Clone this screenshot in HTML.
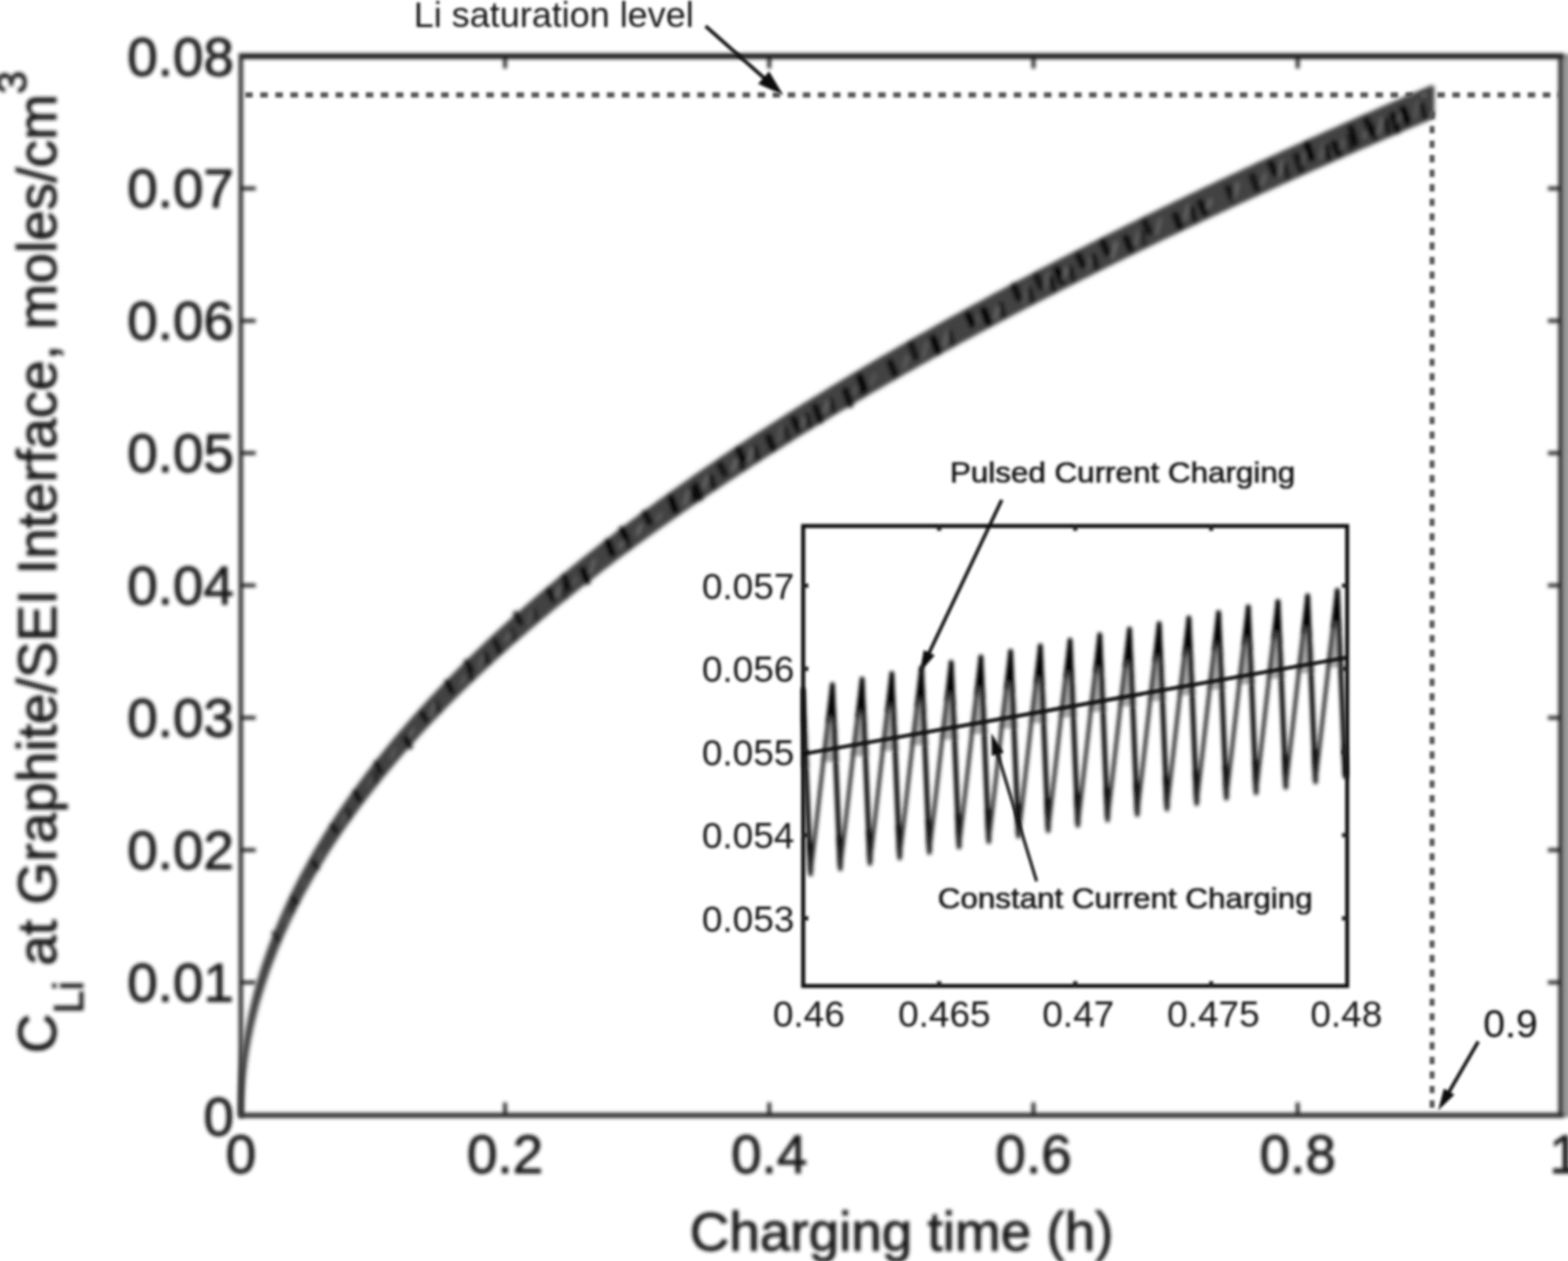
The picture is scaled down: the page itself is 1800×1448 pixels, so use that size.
<!DOCTYPE html>
<html lang="en"><head><meta charset="utf-8"><title>Li concentration at graphite/SEI interface vs charging time</title>
<style>html,body{margin:0;padding:0;background:#fff;overflow:hidden}svg{display:block}text{font-family:"Liberation Sans", sans-serif;fill:#161616}</style></head><body>
<svg width="1800" height="1448" viewBox="0 0 1800 1448">
<defs>
<filter id="f-band" x="-2%" y="-2%" width="104%" height="104%"><feGaussianBlur stdDeviation="2.5"/></filter>
<filter id="f-main" x="-2%" y="-2%" width="104%" height="104%"><feGaussianBlur stdDeviation="2.2"/></filter>
<filter id="f-zig" x="-2%" y="-2%" width="104%" height="104%"><feGaussianBlur stdDeviation="2.2"/></filter>
<filter id="f-inset" x="-2%" y="-2%" width="104%" height="104%"><feGaussianBlur stdDeviation="1.7"/></filter>
<filter id="f-small" x="-2%" y="-2%" width="104%" height="104%"><feGaussianBlur stdDeviation="1.8"/></filter>
<filter id="f-dots" x="-2%" y="-2%" width="104%" height="104%"><feGaussianBlur stdDeviation="1.8"/></filter>
<clipPath id="ic"><rect x="920.0" y="604.0" width="628.5" height="528.2"/></clipPath>
</defs>
<rect width="1800" height="1448" fill="#fff"/>
<g filter="url(#f-band)">
<path d="M276.5 1279.7 L276.5 1272.8 L276.6 1267.7 L276.7 1263.0 L276.8 1258.5 L277.0 1254.1 L277.2 1249.8 L277.4 1245.7 L277.7 1241.6 L278.0 1237.6 L278.3 1233.6 L278.6 1229.7 L279.0 1225.8 L279.4 1222.0 L279.8 1218.2 L280.2 1214.4 L280.7 1210.7 L281.1 1207.0 L281.6 1203.3 L282.2 1199.6 L282.7 1196.0 L283.3 1192.4 L283.9 1188.8 L284.5 1185.2 L285.1 1181.6 L285.8 1178.1 L286.5 1174.5 L287.2 1171.0 L287.9 1167.5 L288.6 1164.0 L289.4 1160.6 L290.2 1157.1 L291.0 1153.7 L291.8 1150.2 L292.7 1146.8 L293.5 1143.4 L294.4 1140.0 L295.3 1136.6 L296.3 1133.2 L297.2 1129.8 L298.2 1126.5 L299.2 1123.1 L300.2 1119.8 L301.2 1116.4 L302.2 1113.1 L303.3 1109.8 L304.4 1106.5 L305.5 1103.2 L306.6 1099.9 L307.7 1096.6 L308.9 1093.3 L310.1 1090.0 L311.2 1086.8 L312.5 1083.5 L313.7 1080.3 L314.9 1077.0 L316.2 1073.8 L317.5 1070.5 L318.8 1067.3 L320.1 1064.1 L321.5 1060.9 L322.8 1057.7 L324.2 1054.5 L325.6 1051.3 L327.0 1048.1 L328.4 1044.9 L329.9 1041.7 L331.3 1038.5 L332.8 1035.4 L334.3 1032.2 L335.8 1029.0 L337.4 1025.9 L338.9 1022.7 L340.5 1019.6 L342.1 1016.4 L343.7 1013.3 L345.3 1010.2 L346.9 1007.0 L348.6 1003.9 L350.3 1000.8 L352.0 997.7 L353.7 994.6 L355.4 991.5 L357.1 988.3 L358.9 985.2 L360.7 982.2 L362.4 979.1 L364.2 976.0 L366.1 972.9 L367.9 969.8 L369.8 966.7 L371.6 963.7 L373.5 960.6 L375.4 957.5 L377.4 954.5 L379.3 951.4 L381.3 948.3 L383.2 945.3 L385.2 942.2 L387.2 939.2 L389.2 936.2 L391.3 933.1 L393.3 930.1 L395.4 927.0 L397.5 924.0 L399.6 921.0 L401.7 918.0 L403.8 914.9 L406.0 911.9 L408.2 908.9 L410.3 905.9 L412.5 902.9 L414.8 899.9 L417.0 896.9 L419.2 893.9 L421.5 890.9 L423.8 887.9 L426.1 884.9 L428.4 881.9 L430.7 878.9 L433.0 875.9 L435.4 873.0 L437.8 870.0 L440.2 867.0 L442.6 864.0 L445.0 861.1 L447.4 858.1 L449.9 855.1 L452.3 852.2 L454.8 849.2 L457.3 846.2 L459.8 843.3 L462.3 840.3 L464.9 837.4 L467.4 834.4 L470.0 831.5 L472.6 828.5 L475.2 825.6 L477.8 822.6 L480.5 819.7 L483.1 816.8 L485.8 813.8 L488.4 810.9 L491.1 808.0 L493.8 805.1 L496.6 802.1 L499.3 799.2 L502.1 796.3 L504.8 793.4 L507.6 790.5 L510.4 787.5 L513.2 784.6 L516.1 781.7 L518.9 778.8 L521.8 775.9 L524.6 773.0 L527.5 770.1 L530.4 767.2 L533.4 764.3 L536.3 761.4 L539.2 758.5 L542.2 755.6 L545.2 752.7 L548.2 749.8 L551.2 746.9 L554.2 744.1 L557.2 741.2 L560.3 738.3 L563.4 735.4 L566.4 732.5 L569.5 729.7 L572.6 726.8 L575.8 723.9 L578.9 721.0 L582.1 718.2 L585.2 715.3 L588.4 712.4 L591.6 709.6 L594.8 706.7 L598.0 703.9 L601.3 701.0 L604.5 698.1 L607.8 695.3 L611.1 692.4 L614.4 689.6 L617.7 686.7 L621.0 683.9 L624.4 681.0 L627.7 678.2 L631.1 675.3 L634.5 672.5 L637.9 669.7 L641.3 666.8 L644.7 664.0 L648.2 661.1 L651.6 658.3 L655.1 655.5 L658.6 652.6 L662.1 649.8 L665.6 647.0 L669.1 644.1 L672.6 641.3 L676.2 638.5 L679.8 635.7 L683.4 632.9 L686.9 630.0 L690.6 627.2 L694.2 624.4 L697.8 621.6 L701.5 618.8 L705.1 616.0 L708.8 613.1 L712.5 610.3 L716.2 607.5 L720.0 604.7 L723.7 601.9 L727.4 599.1 L731.2 596.3 L735.0 593.5 L738.8 590.7 L742.6 587.9 L746.4 585.1 L750.2 582.3 L754.1 579.5 L757.9 576.7 L761.8 573.9 L765.7 571.1 L769.6 568.3 L773.5 565.5 L777.5 562.8 L781.4 560.0 L785.4 557.2 L789.3 554.4 L793.3 551.6 L797.3 548.8 L801.3 546.1 L805.4 543.3 L809.4 540.5 L813.5 537.7 L817.5 534.9 L821.6 532.2 L825.7 529.4 L829.8 526.6 L833.9 523.9 L838.1 521.1 L842.2 518.3 L846.4 515.6 L850.6 512.8 L854.7 510.0 L859.0 507.3 L863.2 504.5 L867.4 501.7 L871.6 499.0 L875.9 496.2 L880.2 493.5 L884.5 490.7 L888.8 487.9 L893.1 485.2 L897.4 482.4 L901.7 479.7 L906.1 476.9 L910.4 474.2 L914.8 471.4 L919.2 468.7 L923.6 465.9 L928.0 463.2 L932.5 460.4 L936.9 457.7 L941.4 455.0 L945.9 452.2 L950.3 449.5 L954.8 446.7 L959.3 444.0 L963.9 441.3 L968.4 438.5 L973.0 435.8 L977.5 433.1 L982.1 430.3 L986.7 427.6 L991.3 424.9 L995.9 422.1 L1000.6 419.4 L1005.2 416.7 L1009.9 413.9 L1014.5 411.2 L1019.2 408.5 L1023.9 405.8 L1028.6 403.0 L1033.3 400.3 L1038.1 397.6 L1042.8 394.9 L1047.6 392.2 L1052.4 389.4 L1057.2 386.7 L1062.0 384.0 L1066.8 381.3 L1071.6 378.6 L1076.4 375.9 L1081.3 373.2 L1086.2 370.4 L1091.1 367.7 L1095.9 365.0 L1100.9 362.3 L1105.8 359.6 L1110.7 356.9 L1115.7 354.2 L1120.6 351.5 L1125.6 348.8 L1130.6 346.1 L1135.6 343.4 L1140.6 340.7 L1145.6 338.0 L1150.6 335.3 L1155.7 332.6 L1160.7 329.9 L1165.8 327.2 L1170.9 324.5 L1176.0 321.8 L1181.1 319.1 L1186.3 316.4 L1191.4 313.7 L1196.5 311.0 L1201.7 308.3 L1206.9 305.6 L1212.1 302.9 L1217.3 300.3 L1222.5 297.6 L1227.7 294.9 L1233.0 292.2 L1238.2 289.5 L1243.5 286.8 L1248.8 284.1 L1254.1 281.5 L1259.4 278.8 L1264.7 276.1 L1270.0 273.4 L1275.4 270.7 L1280.7 268.1 L1286.1 265.4 L1291.5 262.7 L1296.9 260.0 L1302.3 257.4 L1307.7 254.7 L1313.1 252.0 L1318.6 249.3 L1324.0 246.7 L1329.5 244.0 L1335.0 241.3 L1340.5 238.7 L1346.0 236.0 L1351.5 233.3 L1357.1 230.7 L1362.6 228.0 L1368.2 225.3 L1373.8 222.7 L1379.3 220.0 L1384.9 217.3 L1390.5 214.7 L1396.2 212.0 L1401.8 209.3 L1407.5 206.7 L1413.1 204.0 L1418.8 201.4 L1424.5 198.7 L1430.2 196.1 L1435.9 193.4 L1441.6 190.7 L1447.3 188.1 L1453.1 185.4 L1458.9 182.8 L1464.6 180.1 L1470.4 177.5 L1476.2 174.8 L1482.0 172.2 L1487.8 169.5 L1493.7 166.9 L1499.5 164.2 L1505.4 161.6 L1511.3 158.9 L1517.2 156.3 L1523.1 153.6 L1529.0 151.0 L1534.9 148.4 L1540.8 145.7 L1546.8 143.1 L1552.7 140.4 L1558.7 137.8 L1564.7 135.1 L1570.7 132.5 L1576.7 129.9 L1582.7 127.2 L1588.8 124.6 L1594.8 122.0 L1600.9 119.3 L1606.9 116.7 L1613.0 114.1 L1619.1 111.4 L1625.2 108.8 L1631.3 106.2 L1637.5 103.5 L1643.6 100.9 L1643.6 133.6 L1637.5 136.2 L1631.3 138.8 L1625.2 141.4 L1619.1 144.0 L1613.0 146.6 L1606.9 149.2 L1600.9 151.9 L1594.8 154.5 L1588.8 157.1 L1582.7 159.7 L1576.7 162.3 L1570.7 164.9 L1564.7 167.5 L1558.7 170.1 L1552.7 172.7 L1546.8 175.3 L1540.8 177.9 L1534.9 180.6 L1529.0 183.2 L1523.1 185.8 L1517.2 188.4 L1511.3 191.0 L1505.4 193.6 L1499.5 196.2 L1493.7 198.9 L1487.8 201.5 L1482.0 204.1 L1476.2 206.7 L1470.4 209.3 L1464.6 212.0 L1458.9 214.6 L1453.1 217.2 L1447.3 219.8 L1441.6 222.5 L1435.9 225.1 L1430.2 227.7 L1424.5 230.3 L1418.8 233.0 L1413.1 235.6 L1407.5 238.2 L1401.8 240.8 L1396.2 243.5 L1390.5 246.1 L1384.9 248.7 L1379.3 251.4 L1373.8 254.0 L1368.2 256.6 L1362.6 259.3 L1357.1 261.9 L1351.5 264.5 L1346.0 267.2 L1340.5 269.8 L1335.0 272.4 L1329.5 275.1 L1324.0 277.7 L1318.6 280.4 L1313.1 283.0 L1307.7 285.6 L1302.3 288.3 L1296.9 290.9 L1291.5 293.6 L1286.1 296.2 L1280.7 298.8 L1275.4 301.5 L1270.0 304.1 L1264.7 306.8 L1259.4 309.4 L1254.1 312.1 L1248.8 314.7 L1243.5 317.4 L1238.2 320.0 L1233.0 322.7 L1227.7 325.3 L1222.5 328.0 L1217.3 330.6 L1212.1 333.3 L1206.9 336.0 L1201.7 338.6 L1196.5 341.3 L1191.4 343.9 L1186.3 346.6 L1181.1 349.2 L1176.0 351.9 L1170.9 354.6 L1165.8 357.2 L1160.7 359.9 L1155.7 362.6 L1150.6 365.2 L1145.6 367.9 L1140.6 370.5 L1135.6 373.2 L1130.6 375.9 L1125.6 378.5 L1120.6 381.2 L1115.7 383.9 L1110.7 386.6 L1105.8 389.2 L1100.9 391.9 L1095.9 394.6 L1091.1 397.3 L1086.2 399.9 L1081.3 402.6 L1076.4 405.3 L1071.6 408.0 L1066.8 410.6 L1062.0 413.3 L1057.2 416.0 L1052.4 418.7 L1047.6 421.4 L1042.8 424.0 L1038.1 426.7 L1033.3 429.4 L1028.6 432.1 L1023.9 434.8 L1019.2 437.5 L1014.5 440.2 L1009.9 442.9 L1005.2 445.5 L1000.6 448.2 L995.9 450.9 L991.3 453.6 L986.7 456.3 L982.1 459.0 L977.5 461.7 L973.0 464.4 L968.4 467.1 L963.9 469.8 L959.3 472.5 L954.8 475.2 L950.3 477.9 L945.9 480.6 L941.4 483.3 L936.9 486.0 L932.5 488.7 L928.0 491.4 L923.6 494.1 L919.2 496.8 L914.8 499.5 L910.4 502.3 L906.1 505.0 L901.7 507.7 L897.4 510.4 L893.1 513.1 L888.8 515.8 L884.5 518.5 L880.2 521.3 L875.9 524.0 L871.6 526.7 L867.4 529.4 L863.2 532.1 L859.0 534.9 L854.7 537.6 L850.6 540.3 L846.4 543.0 L842.2 545.8 L838.1 548.5 L833.9 551.2 L829.8 553.9 L825.7 556.7 L821.6 559.4 L817.5 562.1 L813.5 564.9 L809.4 567.6 L805.4 570.4 L801.3 573.1 L797.3 575.8 L793.3 578.6 L789.3 581.3 L785.4 584.1 L781.4 586.8 L777.5 589.5 L773.5 592.3 L769.6 595.0 L765.7 597.8 L761.8 600.5 L757.9 603.3 L754.1 606.0 L750.2 608.8 L746.4 611.5 L742.6 614.3 L738.8 617.1 L735.0 619.8 L731.2 622.6 L727.4 625.3 L723.7 628.1 L720.0 630.9 L716.2 633.6 L712.5 636.4 L708.8 639.1 L705.1 641.9 L701.5 644.7 L697.8 647.5 L694.2 650.2 L690.6 653.0 L686.9 655.8 L683.4 658.5 L679.8 661.3 L676.2 664.1 L672.6 666.9 L669.1 669.7 L665.6 672.4 L662.1 675.2 L658.6 678.0 L655.1 680.8 L651.6 683.6 L648.2 686.4 L644.7 689.2 L641.3 691.9 L637.9 694.7 L634.5 697.5 L631.1 700.3 L627.7 703.1 L624.4 705.9 L621.0 708.7 L617.7 711.5 L614.4 714.3 L611.1 717.1 L607.8 719.9 L604.5 722.7 L601.3 725.6 L598.0 728.4 L594.8 731.2 L591.6 734.0 L588.4 736.8 L585.2 739.6 L582.1 742.4 L578.9 745.3 L575.8 748.1 L572.6 750.9 L569.5 753.7 L566.4 756.5 L563.4 759.4 L560.3 762.2 L557.2 765.0 L554.2 767.9 L551.2 770.7 L548.2 773.5 L545.2 776.4 L542.2 779.2 L539.2 782.0 L536.3 784.9 L533.4 787.7 L530.4 790.6 L527.5 793.4 L524.6 796.3 L521.8 799.1 L518.9 802.0 L516.1 804.8 L513.2 807.7 L510.4 810.5 L507.6 813.4 L504.8 816.3 L502.1 819.1 L499.3 822.0 L496.6 824.9 L493.8 827.7 L491.1 830.6 L488.4 833.5 L485.8 836.3 L483.1 839.2 L480.5 842.1 L477.8 845.0 L475.2 847.9 L472.6 850.7 L470.0 853.6 L467.4 856.5 L464.9 859.4 L462.3 862.3 L459.8 865.2 L457.3 868.1 L454.8 871.0 L452.3 873.9 L449.9 876.8 L447.4 879.7 L445.0 882.6 L442.6 885.5 L440.2 888.4 L437.8 891.3 L435.4 894.2 L433.0 897.2 L430.7 900.1 L428.4 903.0 L426.1 905.9 L423.8 908.9 L421.5 911.8 L419.2 914.7 L417.0 917.7 L414.8 920.6 L412.5 923.5 L410.3 926.5 L408.2 929.4 L406.0 932.4 L403.8 935.3 L401.7 938.3 L399.6 941.2 L397.5 944.2 L395.4 947.1 L393.3 950.1 L391.3 953.1 L389.2 956.0 L387.2 959.0 L385.2 962.0 L383.2 964.9 L381.3 967.9 L379.3 970.9 L377.4 973.9 L375.4 976.9 L373.5 979.9 L371.6 982.9 L369.8 985.9 L367.9 988.9 L366.1 991.9 L364.2 994.9 L362.4 997.9 L360.7 1000.9 L358.9 1003.9 L357.1 1006.9 L355.4 1010.0 L353.7 1013.0 L352.0 1016.0 L350.3 1019.0 L348.6 1022.1 L346.9 1025.1 L345.3 1028.2 L343.7 1031.2 L342.1 1034.3 L340.5 1037.3 L338.9 1040.4 L337.4 1043.4 L335.8 1046.5 L334.3 1049.6 L332.8 1052.7 L331.3 1055.7 L329.9 1058.8 L328.4 1061.9 L327.0 1065.0 L325.6 1068.1 L324.2 1071.2 L322.8 1074.3 L321.5 1077.4 L320.1 1080.5 L318.8 1083.7 L317.5 1086.8 L316.2 1089.9 L314.9 1093.0 L313.7 1096.2 L312.5 1099.3 L311.2 1102.5 L310.1 1105.6 L308.9 1108.8 L307.7 1112.0 L306.6 1115.1 L305.5 1118.3 L304.4 1121.5 L303.3 1124.7 L302.2 1127.9 L301.2 1131.1 L300.2 1134.3 L299.2 1137.5 L298.2 1140.8 L297.2 1144.0 L296.3 1147.2 L295.3 1150.5 L294.4 1153.7 L293.5 1157.0 L292.7 1160.3 L291.8 1163.6 L291.0 1166.8 L290.2 1170.1 L289.4 1173.5 L288.6 1176.8 L287.9 1180.1 L287.2 1183.4 L286.5 1186.8 L285.8 1190.1 L285.1 1193.5 L284.5 1196.9 L283.9 1200.3 L283.3 1203.7 L282.7 1207.1 L282.2 1210.6 L281.6 1214.0 L281.1 1217.5 L280.7 1221.0 L280.2 1224.5 L279.8 1228.0 L279.4 1231.5 L279.0 1235.1 L278.6 1238.7 L278.3 1242.3 L278.0 1245.9 L277.7 1249.6 L277.4 1253.3 L277.2 1257.1 L277.0 1260.9 L276.8 1264.7 L276.7 1268.6 L276.6 1272.6 L276.5 1276.6 L276.5 1280.3Z" fill="#434343" stroke="#434343" stroke-width="6" stroke-linejoin="round"/>
<line x1="314.2" y1="1071.1" x2="319.2" y2="1078.9" stroke="#000" stroke-width="5.1" stroke-linecap="round" opacity="0.72"/>
<line x1="330.7" y1="1049.4" x2="326.7" y2="1059.5" stroke="#8c8c8c" stroke-width="2.1" stroke-linecap="round" opacity="0.43"/>
<line x1="334.0" y1="1038.1" x2="337.0" y2="1046.6" stroke="#000" stroke-width="4.1" stroke-linecap="round" opacity="0.43"/>
<line x1="335.6" y1="1030.6" x2="340.6" y2="1037.2" stroke="#000" stroke-width="5.3" stroke-linecap="round" opacity="0.77"/>
<line x1="351.5" y1="1010.7" x2="347.5" y2="1016.6" stroke="#8c8c8c" stroke-width="2.1" stroke-linecap="round" opacity="0.39"/>
<line x1="359.6" y1="989.8" x2="364.6" y2="996.8" stroke="#000" stroke-width="5.5" stroke-linecap="round" opacity="0.74"/>
<line x1="369.6" y1="978.6" x2="365.6" y2="986.8" stroke="#8c8c8c" stroke-width="2.2" stroke-linecap="round" opacity="0.45"/>
<line x1="381.1" y1="947.7" x2="386.1" y2="954.8" stroke="#000" stroke-width="5.7" stroke-linecap="round" opacity="0.76"/>
<line x1="396.0" y1="935.5" x2="392.0" y2="945.9" stroke="#8c8c8c" stroke-width="2.2" stroke-linecap="round" opacity="0.45"/>
<line x1="398.9" y1="929.3" x2="401.9" y2="938.8" stroke="#000" stroke-width="4.3" stroke-linecap="round" opacity="0.72"/>
<line x1="407.6" y1="909.2" x2="412.6" y2="918.6" stroke="#000" stroke-width="5.9" stroke-linecap="round" opacity="0.96"/>
<line x1="425.8" y1="893.8" x2="421.8" y2="902.7" stroke="#8c8c8c" stroke-width="2.3" stroke-linecap="round" opacity="0.29"/>
<line x1="430.0" y1="887.8" x2="433.0" y2="897.6" stroke="#000" stroke-width="4.4" stroke-linecap="round" opacity="0.46"/>
<line x1="431.9" y1="875.9" x2="436.9" y2="886.6" stroke="#000" stroke-width="6.1" stroke-linecap="round" opacity="0.87"/>
<line x1="452.8" y1="860.2" x2="448.8" y2="870.5" stroke="#8c8c8c" stroke-width="2.4" stroke-linecap="round" opacity="0.46"/>
<line x1="465.7" y1="847.5" x2="470.7" y2="857.2" stroke="#000" stroke-width="6.3" stroke-linecap="round" opacity="0.90"/>
<line x1="474.6" y1="837.6" x2="470.6" y2="845.7" stroke="#8c8c8c" stroke-width="2.5" stroke-linecap="round" opacity="0.60"/>
<line x1="484.4" y1="819.0" x2="489.4" y2="827.0" stroke="#000" stroke-width="6.5" stroke-linecap="round" opacity="0.84"/>
<line x1="498.4" y1="807.6" x2="494.4" y2="822.5" stroke="#8c8c8c" stroke-width="2.6" stroke-linecap="round" opacity="0.52"/>
<line x1="501.2" y1="806.3" x2="504.2" y2="816.8" stroke="#000" stroke-width="4.8" stroke-linecap="round" opacity="0.56"/>
<line x1="513.5" y1="783.4" x2="518.5" y2="794.0" stroke="#000" stroke-width="6.8" stroke-linecap="round" opacity="0.97"/>
<line x1="533.7" y1="776.5" x2="529.7" y2="785.7" stroke="#8c8c8c" stroke-width="2.7" stroke-linecap="round" opacity="0.40"/>
<line x1="538.4" y1="768.8" x2="541.4" y2="779.6" stroke="#000" stroke-width="4.9" stroke-linecap="round" opacity="0.78"/>
<line x1="535.7" y1="760.2" x2="540.7" y2="769.6" stroke="#000" stroke-width="6.9" stroke-linecap="round" opacity="0.85"/>
<line x1="553.9" y1="752.9" x2="549.9" y2="767.7" stroke="#8c8c8c" stroke-width="2.7" stroke-linecap="round" opacity="0.40"/>
<line x1="557.6" y1="750.5" x2="560.6" y2="761.4" stroke="#000" stroke-width="5.0" stroke-linecap="round" opacity="0.78"/>
<line x1="568.4" y1="736.1" x2="573.4" y2="747.8" stroke="#000" stroke-width="7.2" stroke-linecap="round" opacity="0.72"/>
<line x1="584.8" y1="728.0" x2="580.8" y2="735.2" stroke="#8c8c8c" stroke-width="2.8" stroke-linecap="round" opacity="0.53"/>
<line x1="588.0" y1="722.8" x2="591.0" y2="733.9" stroke="#000" stroke-width="5.1" stroke-linecap="round" opacity="0.44"/>
<line x1="592.4" y1="705.1" x2="597.4" y2="714.7" stroke="#000" stroke-width="7.4" stroke-linecap="round" opacity="0.75"/>
<line x1="610.5" y1="700.0" x2="606.5" y2="716.9" stroke="#8c8c8c" stroke-width="2.9" stroke-linecap="round" opacity="0.30"/>
<line x1="613.6" y1="700.4" x2="616.6" y2="711.7" stroke="#000" stroke-width="5.2" stroke-linecap="round" opacity="0.41"/>
<line x1="630.0" y1="678.2" x2="635.0" y2="688.2" stroke="#000" stroke-width="7.6" stroke-linecap="round" opacity="0.80"/>
<line x1="642.7" y1="673.2" x2="638.7" y2="685.7" stroke="#8c8c8c" stroke-width="3.0" stroke-linecap="round" opacity="0.60"/>
<line x1="646.2" y1="673.2" x2="649.2" y2="684.7" stroke="#000" stroke-width="5.3" stroke-linecap="round" opacity="0.43"/>
<line x1="647.9" y1="662.4" x2="652.9" y2="675.4" stroke="#000" stroke-width="7.8" stroke-linecap="round" opacity="0.75"/>
<line x1="661.5" y1="664.1" x2="657.5" y2="672.0" stroke="#8c8c8c" stroke-width="3.1" stroke-linecap="round" opacity="0.30"/>
<line x1="669.1" y1="654.0" x2="674.1" y2="667.4" stroke="#000" stroke-width="8.0" stroke-linecap="round" opacity="0.91"/>
<line x1="682.1" y1="643.3" x2="678.1" y2="657.6" stroke="#8c8c8c" stroke-width="3.1" stroke-linecap="round" opacity="0.52"/>
<line x1="697.8" y1="622.3" x2="702.8" y2="635.6" stroke="#000" stroke-width="8.2" stroke-linecap="round" opacity="1.00"/>
<line x1="715.8" y1="620.8" x2="711.8" y2="628.6" stroke="#8c8c8c" stroke-width="3.2" stroke-linecap="round" opacity="0.51"/>
<line x1="719.3" y1="616.1" x2="722.3" y2="628.0" stroke="#000" stroke-width="5.6" stroke-linecap="round" opacity="0.54"/>
<line x1="714.2" y1="608.2" x2="719.2" y2="618.7" stroke="#000" stroke-width="8.4" stroke-linecap="round" opacity="0.91"/>
<line x1="735.7" y1="603.2" x2="731.7" y2="613.2" stroke="#8c8c8c" stroke-width="3.3" stroke-linecap="round" opacity="0.60"/>
<line x1="740.6" y1="589.5" x2="745.6" y2="599.8" stroke="#000" stroke-width="8.6" stroke-linecap="round" opacity="0.76"/>
<line x1="758.5" y1="590.1" x2="754.5" y2="597.2" stroke="#8c8c8c" stroke-width="3.3" stroke-linecap="round" opacity="0.42"/>
<line x1="770.3" y1="571.9" x2="775.3" y2="586.1" stroke="#000" stroke-width="8.8" stroke-linecap="round" opacity="0.93"/>
<line x1="790.2" y1="564.4" x2="786.2" y2="578.5" stroke="#8c8c8c" stroke-width="3.4" stroke-linecap="round" opacity="0.53"/>
<line x1="794.6" y1="562.1" x2="797.6" y2="574.3" stroke="#000" stroke-width="5.9" stroke-linecap="round" opacity="0.79"/>
<line x1="798.4" y1="557.6" x2="803.4" y2="571.0" stroke="#000" stroke-width="9.0" stroke-linecap="round" opacity="0.75"/>
<line x1="812.0" y1="546.7" x2="808.0" y2="559.6" stroke="#8c8c8c" stroke-width="3.5" stroke-linecap="round" opacity="0.53"/>
<line x1="816.5" y1="547.1" x2="819.5" y2="559.5" stroke="#000" stroke-width="6.0" stroke-linecap="round" opacity="0.79"/>
<line x1="826.7" y1="533.7" x2="831.7" y2="544.0" stroke="#000" stroke-width="9.0" stroke-linecap="round" opacity="0.70"/>
<line x1="845.1" y1="528.5" x2="841.1" y2="539.6" stroke="#8c8c8c" stroke-width="3.5" stroke-linecap="round" opacity="0.58"/>
<line x1="849.7" y1="525.0" x2="852.7" y2="537.5" stroke="#000" stroke-width="6.0" stroke-linecap="round" opacity="0.73"/>
<line x1="847.9" y1="516.2" x2="852.9" y2="527.1" stroke="#000" stroke-width="9.0" stroke-linecap="round" opacity="0.88"/>
<line x1="863.7" y1="514.4" x2="859.7" y2="529.6" stroke="#8c8c8c" stroke-width="3.5" stroke-linecap="round" opacity="0.57"/>
<line x1="867.1" y1="513.7" x2="870.1" y2="526.2" stroke="#000" stroke-width="6.0" stroke-linecap="round" opacity="0.63"/>
<line x1="882.2" y1="502.0" x2="887.2" y2="514.5" stroke="#000" stroke-width="9.0" stroke-linecap="round" opacity="0.86"/>
<line x1="897.6" y1="489.3" x2="893.6" y2="506.3" stroke="#8c8c8c" stroke-width="3.5" stroke-linecap="round" opacity="0.31"/>
<line x1="902.0" y1="491.4" x2="905.0" y2="504.1" stroke="#000" stroke-width="6.0" stroke-linecap="round" opacity="0.47"/>
<line x1="911.3" y1="481.5" x2="916.3" y2="493.1" stroke="#000" stroke-width="9.0" stroke-linecap="round" opacity="0.86"/>
<line x1="923.8" y1="479.3" x2="919.8" y2="491.8" stroke="#8c8c8c" stroke-width="3.5" stroke-linecap="round" opacity="0.45"/>
<line x1="926.7" y1="476.1" x2="929.7" y2="488.8" stroke="#000" stroke-width="6.0" stroke-linecap="round" opacity="0.71"/>
<line x1="936.3" y1="467.3" x2="941.3" y2="482.3" stroke="#000" stroke-width="9.0" stroke-linecap="round" opacity="0.83"/>
<line x1="950.7" y1="460.4" x2="946.7" y2="473.1" stroke="#8c8c8c" stroke-width="3.5" stroke-linecap="round" opacity="0.49"/>
<line x1="954.3" y1="459.2" x2="957.3" y2="472.1" stroke="#000" stroke-width="6.0" stroke-linecap="round" opacity="0.59"/>
<line x1="970.8" y1="448.6" x2="975.8" y2="463.9" stroke="#000" stroke-width="9.0" stroke-linecap="round" opacity="0.78"/>
<line x1="983.6" y1="444.4" x2="979.6" y2="451.7" stroke="#8c8c8c" stroke-width="3.5" stroke-linecap="round" opacity="0.30"/>
<line x1="986.9" y1="439.7" x2="989.9" y2="452.7" stroke="#000" stroke-width="6.0" stroke-linecap="round" opacity="0.43"/>
<line x1="987.1" y1="432.8" x2="992.1" y2="447.3" stroke="#000" stroke-width="9.0" stroke-linecap="round" opacity="0.97"/>
<line x1="1004.2" y1="430.4" x2="1000.2" y2="440.6" stroke="#8c8c8c" stroke-width="3.5" stroke-linecap="round" opacity="0.30"/>
<line x1="1022.1" y1="416.5" x2="1027.1" y2="429.0" stroke="#000" stroke-width="9.0" stroke-linecap="round" opacity="0.85"/>
<line x1="1041.9" y1="409.6" x2="1037.9" y2="421.9" stroke="#8c8c8c" stroke-width="3.5" stroke-linecap="round" opacity="0.40"/>
<line x1="1046.0" y1="395.4" x2="1051.0" y2="409.9" stroke="#000" stroke-width="9.0" stroke-linecap="round" opacity="0.71"/>
<line x1="1063.8" y1="393.8" x2="1059.8" y2="410.4" stroke="#8c8c8c" stroke-width="3.5" stroke-linecap="round" opacity="0.37"/>
<line x1="1071.3" y1="388.2" x2="1076.3" y2="403.2" stroke="#000" stroke-width="9.0" stroke-linecap="round" opacity="0.99"/>
<line x1="1088.2" y1="378.7" x2="1084.2" y2="396.7" stroke="#8c8c8c" stroke-width="3.5" stroke-linecap="round" opacity="0.52"/>
<line x1="1090.6" y1="380.7" x2="1093.6" y2="394.0" stroke="#000" stroke-width="6.0" stroke-linecap="round" opacity="0.57"/>
<line x1="1111.5" y1="361.6" x2="1116.5" y2="372.9" stroke="#000" stroke-width="9.0" stroke-linecap="round" opacity="0.98"/>
<line x1="1123.2" y1="363.3" x2="1119.2" y2="377.4" stroke="#8c8c8c" stroke-width="3.5" stroke-linecap="round" opacity="0.27"/>
<line x1="1129.5" y1="356.0" x2="1134.5" y2="370.2" stroke="#000" stroke-width="9.0" stroke-linecap="round" opacity="0.94"/>
<line x1="1146.2" y1="352.4" x2="1142.2" y2="365.3" stroke="#8c8c8c" stroke-width="3.5" stroke-linecap="round" opacity="0.55"/>
<line x1="1149.2" y1="349.0" x2="1152.2" y2="362.5" stroke="#000" stroke-width="6.0" stroke-linecap="round" opacity="0.62"/>
<line x1="1164.3" y1="328.7" x2="1169.3" y2="342.4" stroke="#000" stroke-width="9.0" stroke-linecap="round" opacity="0.77"/>
<line x1="1179.2" y1="328.6" x2="1175.2" y2="348.0" stroke="#8c8c8c" stroke-width="3.5" stroke-linecap="round" opacity="0.32"/>
<line x1="1182.1" y1="331.6" x2="1185.1" y2="345.2" stroke="#000" stroke-width="6.0" stroke-linecap="round" opacity="0.70"/>
<line x1="1190.0" y1="317.1" x2="1195.0" y2="329.7" stroke="#000" stroke-width="9.0" stroke-linecap="round" opacity="0.71"/>
<line x1="1203.2" y1="314.8" x2="1199.2" y2="331.4" stroke="#8c8c8c" stroke-width="3.5" stroke-linecap="round" opacity="0.44"/>
<line x1="1206.7" y1="318.8" x2="1209.7" y2="332.5" stroke="#000" stroke-width="6.0" stroke-linecap="round" opacity="0.77"/>
<line x1="1213.8" y1="309.5" x2="1218.8" y2="323.1" stroke="#000" stroke-width="9.0" stroke-linecap="round" opacity="0.95"/>
<line x1="1224.5" y1="308.2" x2="1220.5" y2="320.8" stroke="#8c8c8c" stroke-width="3.5" stroke-linecap="round" opacity="0.59"/>
<line x1="1229.0" y1="307.4" x2="1232.0" y2="321.1" stroke="#000" stroke-width="6.0" stroke-linecap="round" opacity="0.68"/>
<line x1="1238.2" y1="293.8" x2="1243.2" y2="304.8" stroke="#000" stroke-width="9.0" stroke-linecap="round" opacity="0.74"/>
<line x1="1251.5" y1="296.7" x2="1247.5" y2="309.8" stroke="#8c8c8c" stroke-width="3.5" stroke-linecap="round" opacity="0.31"/>
<line x1="1256.0" y1="293.7" x2="1259.0" y2="307.6" stroke="#000" stroke-width="6.0" stroke-linecap="round" opacity="0.75"/>
<line x1="1266.0" y1="277.9" x2="1271.0" y2="290.4" stroke="#000" stroke-width="9.0" stroke-linecap="round" opacity="0.84"/>
<line x1="1281.0" y1="279.2" x2="1277.0" y2="295.0" stroke="#8c8c8c" stroke-width="3.5" stroke-linecap="round" opacity="0.59"/>
<line x1="1292.8" y1="273.3" x2="1297.8" y2="286.0" stroke="#000" stroke-width="9.0" stroke-linecap="round" opacity="0.81"/>
<line x1="1307.4" y1="265.5" x2="1303.4" y2="280.7" stroke="#8c8c8c" stroke-width="3.5" stroke-linecap="round" opacity="0.43"/>
<line x1="1310.9" y1="266.5" x2="1313.9" y2="280.5" stroke="#000" stroke-width="6.0" stroke-linecap="round" opacity="0.40"/>
<line x1="1314.2" y1="255.0" x2="1319.2" y2="266.1" stroke="#000" stroke-width="9.0" stroke-linecap="round" opacity="0.71"/>
<line x1="1331.9" y1="252.2" x2="1327.9" y2="268.2" stroke="#8c8c8c" stroke-width="3.5" stroke-linecap="round" opacity="0.44"/>
<line x1="1349.4" y1="247.0" x2="1354.4" y2="260.3" stroke="#000" stroke-width="9.0" stroke-linecap="round" opacity="0.80"/>
<line x1="1364.1" y1="235.9" x2="1360.1" y2="251.9" stroke="#8c8c8c" stroke-width="3.5" stroke-linecap="round" opacity="0.48"/>
<line x1="1368.6" y1="238.7" x2="1371.6" y2="252.8" stroke="#000" stroke-width="6.0" stroke-linecap="round" opacity="0.76"/>
<line x1="1378.0" y1="232.6" x2="1383.0" y2="244.4" stroke="#000" stroke-width="9.0" stroke-linecap="round" opacity="0.86"/>
<line x1="1390.1" y1="229.9" x2="1386.1" y2="239.0" stroke="#8c8c8c" stroke-width="3.5" stroke-linecap="round" opacity="0.54"/>
<line x1="1409.8" y1="215.8" x2="1414.8" y2="228.3" stroke="#000" stroke-width="9.0" stroke-linecap="round" opacity="0.71"/>
<line x1="1420.7" y1="211.1" x2="1416.7" y2="229.2" stroke="#8c8c8c" stroke-width="3.5" stroke-linecap="round" opacity="0.54"/>
<line x1="1437.7" y1="202.4" x2="1442.7" y2="216.6" stroke="#000" stroke-width="9.0" stroke-linecap="round" opacity="0.70"/>
<line x1="1452.4" y1="200.1" x2="1448.4" y2="212.1" stroke="#8c8c8c" stroke-width="3.5" stroke-linecap="round" opacity="0.44"/>
<line x1="1458.8" y1="187.8" x2="1463.8" y2="199.4" stroke="#000" stroke-width="9.0" stroke-linecap="round" opacity="0.78"/>
<line x1="1472.1" y1="186.0" x2="1468.1" y2="201.6" stroke="#8c8c8c" stroke-width="3.5" stroke-linecap="round" opacity="0.59"/>
<line x1="1475.2" y1="189.1" x2="1478.2" y2="203.5" stroke="#000" stroke-width="6.0" stroke-linecap="round" opacity="0.59"/>
<line x1="1488.3" y1="179.1" x2="1493.3" y2="194.4" stroke="#000" stroke-width="9.0" stroke-linecap="round" opacity="0.72"/>
<line x1="1498.4" y1="174.5" x2="1494.4" y2="189.7" stroke="#8c8c8c" stroke-width="3.5" stroke-linecap="round" opacity="0.36"/>
<line x1="1500.5" y1="166.0" x2="1505.5" y2="181.5" stroke="#000" stroke-width="9.0" stroke-linecap="round" opacity="0.91"/>
<line x1="1520.2" y1="165.0" x2="1516.2" y2="181.4" stroke="#8c8c8c" stroke-width="3.5" stroke-linecap="round" opacity="0.41"/>
<line x1="1522.6" y1="167.8" x2="1525.6" y2="182.3" stroke="#000" stroke-width="6.0" stroke-linecap="round" opacity="0.76"/>
<line x1="1531.6" y1="164.7" x2="1536.6" y2="176.1" stroke="#000" stroke-width="9.0" stroke-linecap="round" opacity="0.84"/>
<line x1="1542.9" y1="161.4" x2="1538.9" y2="171.8" stroke="#8c8c8c" stroke-width="3.5" stroke-linecap="round" opacity="0.34"/>
<line x1="1547.8" y1="156.7" x2="1550.8" y2="171.2" stroke="#000" stroke-width="6.0" stroke-linecap="round" opacity="0.48"/>
<line x1="1551.0" y1="147.1" x2="1556.0" y2="164.6" stroke="#000" stroke-width="9.0" stroke-linecap="round" opacity="0.74"/>
<line x1="1570.7" y1="144.8" x2="1566.7" y2="156.8" stroke="#8c8c8c" stroke-width="3.5" stroke-linecap="round" opacity="0.50"/>
<line x1="1575.4" y1="144.6" x2="1578.4" y2="159.2" stroke="#000" stroke-width="6.0" stroke-linecap="round" opacity="0.59"/>
<line x1="1569.0" y1="138.2" x2="1574.0" y2="152.5" stroke="#000" stroke-width="9.0" stroke-linecap="round" opacity="0.79"/>
<line x1="1586.6" y1="136.2" x2="1582.6" y2="153.6" stroke="#8c8c8c" stroke-width="3.5" stroke-linecap="round" opacity="0.54"/>
<line x1="1590.9" y1="137.8" x2="1593.9" y2="152.5" stroke="#000" stroke-width="6.0" stroke-linecap="round" opacity="0.74"/>
<line x1="1599.0" y1="132.0" x2="1604.0" y2="149.3" stroke="#000" stroke-width="9.0" stroke-linecap="round" opacity="0.79"/>
<line x1="1608.6" y1="127.2" x2="1604.6" y2="139.6" stroke="#8c8c8c" stroke-width="3.5" stroke-linecap="round" opacity="0.46"/>
<line x1="1611.9" y1="128.7" x2="1614.9" y2="143.4" stroke="#000" stroke-width="6.0" stroke-linecap="round" opacity="0.51"/>
<line x1="1610.5" y1="125.1" x2="1615.5" y2="138.4" stroke="#000" stroke-width="9.0" stroke-linecap="round" opacity="0.98"/>
<line x1="1627.7" y1="117.7" x2="1623.7" y2="134.6" stroke="#8c8c8c" stroke-width="3.5" stroke-linecap="round" opacity="0.32"/>
<line x1="1632.6" y1="119.9" x2="1635.6" y2="134.6" stroke="#000" stroke-width="6.0" stroke-linecap="round" opacity="0.75"/>
</g>
<g filter="url(#f-main)">
<rect x="1794" y="62" width="10" height="1221" fill="#9a9a9a"/>
<line x1="274.0" y1="64.5" x2="1796.0" y2="64.5" stroke="#1c1c1c" stroke-width="6.5"/>
<line x1="276.5" y1="64.5" x2="276.5" y2="1283.0" stroke="#303030" stroke-width="5"/>
<line x1="274.0" y1="1280.8" x2="1796.0" y2="1280.8" stroke="#303030" stroke-width="6"/>
<line x1="1791.5" y1="64.5" x2="1791.5" y2="1283.0" stroke="#303030" stroke-width="5.5"/>
<line x1="579.8" y1="1280.0" x2="579.8" y2="1266.0" stroke="#222" stroke-width="4.2"/>
<line x1="579.8" y1="64.5" x2="579.8" y2="78.5" stroke="#222" stroke-width="4.2"/>
<line x1="883.1" y1="1280.0" x2="883.1" y2="1266.0" stroke="#222" stroke-width="4.2"/>
<line x1="883.1" y1="64.5" x2="883.1" y2="78.5" stroke="#222" stroke-width="4.2"/>
<line x1="1186.4" y1="1280.0" x2="1186.4" y2="1266.0" stroke="#222" stroke-width="4.2"/>
<line x1="1186.4" y1="64.5" x2="1186.4" y2="78.5" stroke="#222" stroke-width="4.2"/>
<line x1="1489.7" y1="1280.0" x2="1489.7" y2="1266.0" stroke="#222" stroke-width="4.2"/>
<line x1="1489.7" y1="64.5" x2="1489.7" y2="78.5" stroke="#222" stroke-width="4.2"/>
<line x1="276.5" y1="1128.1" x2="293.5" y2="1128.1" stroke="#222" stroke-width="4.2"/>
<line x1="1793.0" y1="1128.1" x2="1777.0" y2="1128.1" stroke="#222" stroke-width="4.2"/>
<line x1="276.5" y1="976.1" x2="293.5" y2="976.1" stroke="#222" stroke-width="4.2"/>
<line x1="1793.0" y1="976.1" x2="1777.0" y2="976.1" stroke="#222" stroke-width="4.2"/>
<line x1="276.5" y1="824.2" x2="293.5" y2="824.2" stroke="#222" stroke-width="4.2"/>
<line x1="1793.0" y1="824.2" x2="1777.0" y2="824.2" stroke="#222" stroke-width="4.2"/>
<line x1="276.5" y1="672.2" x2="293.5" y2="672.2" stroke="#222" stroke-width="4.2"/>
<line x1="1793.0" y1="672.2" x2="1777.0" y2="672.2" stroke="#222" stroke-width="4.2"/>
<line x1="276.5" y1="520.3" x2="293.5" y2="520.3" stroke="#222" stroke-width="4.2"/>
<line x1="1793.0" y1="520.3" x2="1777.0" y2="520.3" stroke="#222" stroke-width="4.2"/>
<line x1="276.5" y1="368.4" x2="293.5" y2="368.4" stroke="#222" stroke-width="4.2"/>
<line x1="1793.0" y1="368.4" x2="1777.0" y2="368.4" stroke="#222" stroke-width="4.2"/>
<line x1="276.5" y1="216.4" x2="293.5" y2="216.4" stroke="#222" stroke-width="4.2"/>
<line x1="1793.0" y1="216.4" x2="1777.0" y2="216.4" stroke="#222" stroke-width="4.2"/>
<text x="276.5" y="1346.5" font-size="63" stroke="#161616" stroke-width="0.9" text-anchor="middle">0</text>
<text x="579.8" y="1346.5" font-size="63" stroke="#161616" stroke-width="0.9" text-anchor="middle">0.2</text>
<text x="883.1" y="1346.5" font-size="63" stroke="#161616" stroke-width="0.9" text-anchor="middle">0.4</text>
<text x="1186.4" y="1346.5" font-size="63" stroke="#161616" stroke-width="0.9" text-anchor="middle">0.6</text>
<text x="1489.7" y="1346.5" font-size="63" stroke="#161616" stroke-width="0.9" text-anchor="middle">0.8</text>
<text x="1796.0" y="1346.5" font-size="63" stroke="#161616" stroke-width="0.9" text-anchor="middle">1</text>
<text x="268.5" y="1303.5" font-size="63" stroke="#161616" stroke-width="0.9" text-anchor="end">0</text>
<text x="268.5" y="1150.1" font-size="63" stroke="#161616" stroke-width="0.9" text-anchor="end">0.01</text>
<text x="268.5" y="998.1" font-size="63" stroke="#161616" stroke-width="0.9" text-anchor="end">0.02</text>
<text x="268.5" y="846.2" font-size="63" stroke="#161616" stroke-width="0.9" text-anchor="end">0.03</text>
<text x="268.5" y="694.2" font-size="63" stroke="#161616" stroke-width="0.9" text-anchor="end">0.04</text>
<text x="268.5" y="542.3" font-size="63" stroke="#161616" stroke-width="0.9" text-anchor="end">0.05</text>
<text x="268.5" y="390.4" font-size="63" stroke="#161616" stroke-width="0.9" text-anchor="end">0.06</text>
<text x="268.5" y="238.4" font-size="63" stroke="#161616" stroke-width="0.9" text-anchor="end">0.07</text>
<text x="268.5" y="86.5" font-size="63" stroke="#161616" stroke-width="0.9" text-anchor="end">0.08</text>
<text x="1035" y="1436" font-size="63" stroke="#161616" stroke-width="0.9" text-anchor="middle">Charging time (h)</text>
<text transform="translate(64.3 1209.5) rotate(-90)" font-size="63.2" stroke="#161616" stroke-width="0.9">C<tspan font-size="48" dy="31">Li</tspan><tspan dy="-31"> at Graphite/SEI Interface, moles/cm</tspan><tspan font-size="48" dy="-34">3</tspan></text>
</g>
<g filter="url(#f-zig)">
<path d="M917.3 817.4 L924.6 817.4 L929.8 881.4 L907.6 881.4 Z" fill="#757575" opacity="0.62" clip-path="url(#ic)"/>
<line x1="896.4" y1="1009.9" x2="921.1" y2="792.4" stroke="#2c2c2c" stroke-width="4.3" stroke-linecap="round" clip-path="url(#ic)"/>
<line x1="921.5" y1="792.4" x2="930.5" y2="1003.7" stroke="#000" stroke-width="5.3" stroke-linecap="round" clip-path="url(#ic)"/>
<path d="M916.2 835.4 L921.4 794.4 L923.0 827.4" fill="none" stroke="#000" stroke-width="4.6" stroke-linecap="round" stroke-linejoin="round" clip-path="url(#ic)"/>
<line x1="929.0" y1="967.7" x2="930.5" y2="999.7" stroke="#000" stroke-width="6" stroke-linecap="round" clip-path="url(#ic)"/>
<path d="M951.4 811.0 L958.7 811.0 L963.9 875.0 L941.7 875.0 Z" fill="#757575" opacity="0.62" clip-path="url(#ic)"/>
<line x1="930.5" y1="1003.7" x2="955.2" y2="786.0" stroke="#2c2c2c" stroke-width="4.3" stroke-linecap="round" clip-path="url(#ic)"/>
<line x1="955.6" y1="786.0" x2="964.6" y2="997.5" stroke="#000" stroke-width="5.3" stroke-linecap="round" clip-path="url(#ic)"/>
<path d="M950.3 829.0 L955.5 788.0 L957.1 821.0" fill="none" stroke="#000" stroke-width="4.6" stroke-linecap="round" stroke-linejoin="round" clip-path="url(#ic)"/>
<line x1="963.1" y1="961.5" x2="964.6" y2="993.5" stroke="#000" stroke-width="6" stroke-linecap="round" clip-path="url(#ic)"/>
<path d="M985.5 804.6 L992.8 804.6 L998.0 868.6 L975.8 868.6 Z" fill="#757575" opacity="0.62" clip-path="url(#ic)"/>
<line x1="964.6" y1="997.5" x2="989.3" y2="779.6" stroke="#2c2c2c" stroke-width="4.3" stroke-linecap="round" clip-path="url(#ic)"/>
<line x1="989.7" y1="779.6" x2="998.7" y2="991.3" stroke="#000" stroke-width="5.3" stroke-linecap="round" clip-path="url(#ic)"/>
<path d="M984.4 822.6 L989.6 781.6 L991.2 814.6" fill="none" stroke="#000" stroke-width="4.6" stroke-linecap="round" stroke-linejoin="round" clip-path="url(#ic)"/>
<line x1="997.2" y1="955.3" x2="998.7" y2="987.3" stroke="#000" stroke-width="6" stroke-linecap="round" clip-path="url(#ic)"/>
<path d="M1019.6 798.2 L1026.9 798.2 L1032.1 862.2 L1009.9 862.2 Z" fill="#757575" opacity="0.62" clip-path="url(#ic)"/>
<line x1="998.7" y1="991.3" x2="1023.4" y2="773.2" stroke="#2c2c2c" stroke-width="4.3" stroke-linecap="round" clip-path="url(#ic)"/>
<line x1="1023.8" y1="773.2" x2="1032.8" y2="985.1" stroke="#000" stroke-width="5.3" stroke-linecap="round" clip-path="url(#ic)"/>
<path d="M1018.5 816.2 L1023.7 775.2 L1025.3 808.2" fill="none" stroke="#000" stroke-width="4.6" stroke-linecap="round" stroke-linejoin="round" clip-path="url(#ic)"/>
<line x1="1031.3" y1="949.1" x2="1032.8" y2="981.1" stroke="#000" stroke-width="6" stroke-linecap="round" clip-path="url(#ic)"/>
<path d="M1053.7 791.9 L1061.0 791.9 L1066.2 855.9 L1044.0 855.9 Z" fill="#757575" opacity="0.62" clip-path="url(#ic)"/>
<line x1="1032.8" y1="985.1" x2="1057.5" y2="766.9" stroke="#2c2c2c" stroke-width="4.3" stroke-linecap="round" clip-path="url(#ic)"/>
<line x1="1057.9" y1="766.9" x2="1066.9" y2="978.8" stroke="#000" stroke-width="5.3" stroke-linecap="round" clip-path="url(#ic)"/>
<path d="M1052.6 809.9 L1057.8 768.9 L1059.4 801.9" fill="none" stroke="#000" stroke-width="4.6" stroke-linecap="round" stroke-linejoin="round" clip-path="url(#ic)"/>
<line x1="1065.4" y1="942.8" x2="1066.9" y2="974.8" stroke="#000" stroke-width="6" stroke-linecap="round" clip-path="url(#ic)"/>
<path d="M1087.8 785.5 L1095.1 785.5 L1100.3 849.5 L1078.1 849.5 Z" fill="#757575" opacity="0.62" clip-path="url(#ic)"/>
<line x1="1066.9" y1="978.8" x2="1091.6" y2="760.5" stroke="#2c2c2c" stroke-width="4.3" stroke-linecap="round" clip-path="url(#ic)"/>
<line x1="1092.0" y1="760.5" x2="1101.0" y2="972.6" stroke="#000" stroke-width="5.3" stroke-linecap="round" clip-path="url(#ic)"/>
<path d="M1086.8 803.5 L1091.9 762.5 L1093.5 795.5" fill="none" stroke="#000" stroke-width="4.6" stroke-linecap="round" stroke-linejoin="round" clip-path="url(#ic)"/>
<line x1="1099.5" y1="936.6" x2="1101.0" y2="968.6" stroke="#000" stroke-width="6" stroke-linecap="round" clip-path="url(#ic)"/>
<path d="M1121.9 779.1 L1129.2 779.1 L1134.4 843.1 L1112.2 843.1 Z" fill="#757575" opacity="0.62" clip-path="url(#ic)"/>
<line x1="1101.0" y1="972.6" x2="1125.7" y2="754.1" stroke="#2c2c2c" stroke-width="4.3" stroke-linecap="round" clip-path="url(#ic)"/>
<line x1="1126.1" y1="754.1" x2="1135.1" y2="966.4" stroke="#000" stroke-width="5.3" stroke-linecap="round" clip-path="url(#ic)"/>
<path d="M1120.9 797.1 L1126.0 756.1 L1127.6 789.1" fill="none" stroke="#000" stroke-width="4.6" stroke-linecap="round" stroke-linejoin="round" clip-path="url(#ic)"/>
<line x1="1133.6" y1="930.4" x2="1135.1" y2="962.4" stroke="#000" stroke-width="6" stroke-linecap="round" clip-path="url(#ic)"/>
<path d="M1156.0 772.7 L1163.3 772.7 L1168.5 836.7 L1146.3 836.7 Z" fill="#757575" opacity="0.62" clip-path="url(#ic)"/>
<line x1="1135.1" y1="966.4" x2="1159.8" y2="747.7" stroke="#2c2c2c" stroke-width="4.3" stroke-linecap="round" clip-path="url(#ic)"/>
<line x1="1160.2" y1="747.7" x2="1169.2" y2="960.2" stroke="#000" stroke-width="5.3" stroke-linecap="round" clip-path="url(#ic)"/>
<path d="M1155.0 790.7 L1160.1 749.7 L1161.7 782.7" fill="none" stroke="#000" stroke-width="4.6" stroke-linecap="round" stroke-linejoin="round" clip-path="url(#ic)"/>
<line x1="1167.7" y1="924.2" x2="1169.2" y2="956.2" stroke="#000" stroke-width="6" stroke-linecap="round" clip-path="url(#ic)"/>
<path d="M1190.1 766.4 L1197.4 766.4 L1202.5 830.4 L1180.4 830.4 Z" fill="#757575" opacity="0.62" clip-path="url(#ic)"/>
<line x1="1169.2" y1="960.2" x2="1193.9" y2="741.4" stroke="#2c2c2c" stroke-width="4.3" stroke-linecap="round" clip-path="url(#ic)"/>
<line x1="1194.3" y1="741.4" x2="1203.3" y2="953.9" stroke="#000" stroke-width="5.3" stroke-linecap="round" clip-path="url(#ic)"/>
<path d="M1189.1 784.4 L1194.2 743.4 L1195.8 776.4" fill="none" stroke="#000" stroke-width="4.6" stroke-linecap="round" stroke-linejoin="round" clip-path="url(#ic)"/>
<line x1="1201.8" y1="917.9" x2="1203.3" y2="949.9" stroke="#000" stroke-width="6" stroke-linecap="round" clip-path="url(#ic)"/>
<path d="M1224.2 760.0 L1231.5 760.0 L1236.6 824.0 L1214.5 824.0 Z" fill="#757575" opacity="0.62" clip-path="url(#ic)"/>
<line x1="1203.3" y1="953.9" x2="1228.0" y2="735.0" stroke="#2c2c2c" stroke-width="4.3" stroke-linecap="round" clip-path="url(#ic)"/>
<line x1="1228.4" y1="735.0" x2="1237.4" y2="947.7" stroke="#000" stroke-width="5.3" stroke-linecap="round" clip-path="url(#ic)"/>
<path d="M1223.2 778.0 L1228.3 737.0 L1229.9 770.0" fill="none" stroke="#000" stroke-width="4.6" stroke-linecap="round" stroke-linejoin="round" clip-path="url(#ic)"/>
<line x1="1235.9" y1="911.7" x2="1237.4" y2="943.7" stroke="#000" stroke-width="6" stroke-linecap="round" clip-path="url(#ic)"/>
<path d="M1258.3 753.6 L1265.6 753.6 L1270.7 817.6 L1248.6 817.6 Z" fill="#757575" opacity="0.62" clip-path="url(#ic)"/>
<line x1="1237.4" y1="947.7" x2="1262.1" y2="728.6" stroke="#2c2c2c" stroke-width="4.3" stroke-linecap="round" clip-path="url(#ic)"/>
<line x1="1262.5" y1="728.6" x2="1271.5" y2="941.5" stroke="#000" stroke-width="5.3" stroke-linecap="round" clip-path="url(#ic)"/>
<path d="M1257.3 771.6 L1262.4 730.6 L1264.0 763.6" fill="none" stroke="#000" stroke-width="4.6" stroke-linecap="round" stroke-linejoin="round" clip-path="url(#ic)"/>
<line x1="1270.0" y1="905.5" x2="1271.5" y2="937.5" stroke="#000" stroke-width="6" stroke-linecap="round" clip-path="url(#ic)"/>
<path d="M1292.4 747.2 L1299.7 747.2 L1304.8 811.2 L1282.7 811.2 Z" fill="#757575" opacity="0.62" clip-path="url(#ic)"/>
<line x1="1271.5" y1="941.5" x2="1296.2" y2="722.2" stroke="#2c2c2c" stroke-width="4.3" stroke-linecap="round" clip-path="url(#ic)"/>
<line x1="1296.6" y1="722.2" x2="1305.6" y2="935.3" stroke="#000" stroke-width="5.3" stroke-linecap="round" clip-path="url(#ic)"/>
<path d="M1291.4 765.2 L1296.5 724.2 L1298.1 757.2" fill="none" stroke="#000" stroke-width="4.6" stroke-linecap="round" stroke-linejoin="round" clip-path="url(#ic)"/>
<line x1="1304.1" y1="899.3" x2="1305.6" y2="931.3" stroke="#000" stroke-width="6" stroke-linecap="round" clip-path="url(#ic)"/>
<path d="M1326.5 740.9 L1333.8 740.9 L1338.9 804.9 L1316.9 804.9 Z" fill="#757575" opacity="0.62" clip-path="url(#ic)"/>
<line x1="1305.6" y1="935.3" x2="1330.3" y2="715.9" stroke="#2c2c2c" stroke-width="4.3" stroke-linecap="round" clip-path="url(#ic)"/>
<line x1="1330.7" y1="715.9" x2="1339.7" y2="929.0" stroke="#000" stroke-width="5.3" stroke-linecap="round" clip-path="url(#ic)"/>
<path d="M1325.5 758.9 L1330.6 717.9 L1332.2 750.9" fill="none" stroke="#000" stroke-width="4.6" stroke-linecap="round" stroke-linejoin="round" clip-path="url(#ic)"/>
<line x1="1338.2" y1="893.0" x2="1339.7" y2="925.0" stroke="#000" stroke-width="6" stroke-linecap="round" clip-path="url(#ic)"/>
<path d="M1360.6 734.5 L1367.9 734.5 L1373.0 798.5 L1351.0 798.5 Z" fill="#757575" opacity="0.62" clip-path="url(#ic)"/>
<line x1="1339.7" y1="929.0" x2="1364.4" y2="709.5" stroke="#2c2c2c" stroke-width="4.3" stroke-linecap="round" clip-path="url(#ic)"/>
<line x1="1364.8" y1="709.5" x2="1373.8" y2="922.8" stroke="#000" stroke-width="5.3" stroke-linecap="round" clip-path="url(#ic)"/>
<path d="M1359.6 752.5 L1364.7 711.5 L1366.3 744.5" fill="none" stroke="#000" stroke-width="4.6" stroke-linecap="round" stroke-linejoin="round" clip-path="url(#ic)"/>
<line x1="1372.3" y1="886.8" x2="1373.8" y2="918.8" stroke="#000" stroke-width="6" stroke-linecap="round" clip-path="url(#ic)"/>
<path d="M1394.7 728.1 L1402.0 728.1 L1407.1 792.1 L1385.1 792.1 Z" fill="#757575" opacity="0.62" clip-path="url(#ic)"/>
<line x1="1373.8" y1="922.8" x2="1398.5" y2="703.1" stroke="#2c2c2c" stroke-width="4.3" stroke-linecap="round" clip-path="url(#ic)"/>
<line x1="1398.9" y1="703.1" x2="1407.9" y2="916.6" stroke="#000" stroke-width="5.3" stroke-linecap="round" clip-path="url(#ic)"/>
<path d="M1393.7 746.1 L1398.8 705.1 L1400.4 738.1" fill="none" stroke="#000" stroke-width="4.6" stroke-linecap="round" stroke-linejoin="round" clip-path="url(#ic)"/>
<line x1="1406.4" y1="880.6" x2="1407.9" y2="912.6" stroke="#000" stroke-width="6" stroke-linecap="round" clip-path="url(#ic)"/>
<path d="M1428.8 721.7 L1436.1 721.7 L1441.2 785.7 L1419.2 785.7 Z" fill="#757575" opacity="0.62" clip-path="url(#ic)"/>
<line x1="1407.9" y1="916.6" x2="1432.6" y2="696.7" stroke="#2c2c2c" stroke-width="4.3" stroke-linecap="round" clip-path="url(#ic)"/>
<line x1="1433.0" y1="696.7" x2="1442.0" y2="910.4" stroke="#000" stroke-width="5.3" stroke-linecap="round" clip-path="url(#ic)"/>
<path d="M1427.8 739.7 L1432.9 698.7 L1434.5 731.7" fill="none" stroke="#000" stroke-width="4.6" stroke-linecap="round" stroke-linejoin="round" clip-path="url(#ic)"/>
<line x1="1440.5" y1="874.4" x2="1442.0" y2="906.4" stroke="#000" stroke-width="6" stroke-linecap="round" clip-path="url(#ic)"/>
<path d="M1462.9 715.3 L1470.2 715.3 L1475.3 779.3 L1453.3 779.3 Z" fill="#757575" opacity="0.62" clip-path="url(#ic)"/>
<line x1="1442.0" y1="910.4" x2="1466.7" y2="690.3" stroke="#2c2c2c" stroke-width="4.3" stroke-linecap="round" clip-path="url(#ic)"/>
<line x1="1467.1" y1="690.3" x2="1476.1" y2="904.2" stroke="#000" stroke-width="5.3" stroke-linecap="round" clip-path="url(#ic)"/>
<path d="M1461.9 733.3 L1467.0 692.3 L1468.6 725.3" fill="none" stroke="#000" stroke-width="4.6" stroke-linecap="round" stroke-linejoin="round" clip-path="url(#ic)"/>
<line x1="1474.6" y1="868.2" x2="1476.1" y2="900.2" stroke="#000" stroke-width="6" stroke-linecap="round" clip-path="url(#ic)"/>
<path d="M1497.0 709.0 L1504.3 709.0 L1509.4 773.0 L1487.4 773.0 Z" fill="#757575" opacity="0.62" clip-path="url(#ic)"/>
<line x1="1476.1" y1="904.2" x2="1500.8" y2="684.0" stroke="#2c2c2c" stroke-width="4.3" stroke-linecap="round" clip-path="url(#ic)"/>
<line x1="1501.2" y1="684.0" x2="1510.2" y2="897.9" stroke="#000" stroke-width="5.3" stroke-linecap="round" clip-path="url(#ic)"/>
<path d="M1496.0 727.0 L1501.1 686.0 L1502.7 719.0" fill="none" stroke="#000" stroke-width="4.6" stroke-linecap="round" stroke-linejoin="round" clip-path="url(#ic)"/>
<line x1="1508.7" y1="861.9" x2="1510.2" y2="893.9" stroke="#000" stroke-width="6" stroke-linecap="round" clip-path="url(#ic)"/>
<path d="M1531.1 702.6 L1538.4 702.6 L1543.5 766.6 L1521.5 766.6 Z" fill="#757575" opacity="0.62" clip-path="url(#ic)"/>
<line x1="1510.2" y1="897.9" x2="1534.9" y2="677.6" stroke="#2c2c2c" stroke-width="4.3" stroke-linecap="round" clip-path="url(#ic)"/>
<line x1="1535.3" y1="677.6" x2="1544.3" y2="891.7" stroke="#000" stroke-width="5.3" stroke-linecap="round" clip-path="url(#ic)"/>
<path d="M1530.1 720.6 L1535.2 679.6 L1536.8 712.6" fill="none" stroke="#000" stroke-width="4.6" stroke-linecap="round" stroke-linejoin="round" clip-path="url(#ic)"/>
<line x1="1542.8" y1="855.7" x2="1544.3" y2="887.7" stroke="#000" stroke-width="6" stroke-linecap="round" clip-path="url(#ic)"/>
</g>
<g filter="url(#f-inset)">
<rect x="922.0" y="604.0" width="624.5" height="528.2" fill="none" stroke="#101010" stroke-width="4.6"/>
<line x1="1078.1" y1="1132.2" x2="1078.1" y2="1126.7" stroke="#222" stroke-width="5"/>
<line x1="1078.1" y1="604.0" x2="1078.1" y2="609.5" stroke="#222" stroke-width="5"/>
<line x1="1234.3" y1="1132.2" x2="1234.3" y2="1126.7" stroke="#222" stroke-width="5"/>
<line x1="1234.3" y1="604.0" x2="1234.3" y2="609.5" stroke="#222" stroke-width="5"/>
<line x1="1390.4" y1="1132.2" x2="1390.4" y2="1126.7" stroke="#222" stroke-width="5"/>
<line x1="1390.4" y1="604.0" x2="1390.4" y2="609.5" stroke="#222" stroke-width="5"/>
<line x1="922.0" y1="1054.5" x2="928.0" y2="1054.5" stroke="#222" stroke-width="5"/>
<line x1="1546.5" y1="1054.5" x2="1540.5" y2="1054.5" stroke="#222" stroke-width="5"/>
<line x1="922.0" y1="959.0" x2="928.0" y2="959.0" stroke="#222" stroke-width="5"/>
<line x1="1546.5" y1="959.0" x2="1540.5" y2="959.0" stroke="#222" stroke-width="5"/>
<line x1="922.0" y1="863.5" x2="928.0" y2="863.5" stroke="#222" stroke-width="5"/>
<line x1="1546.5" y1="863.5" x2="1540.5" y2="863.5" stroke="#222" stroke-width="5"/>
<line x1="922.0" y1="768.0" x2="928.0" y2="768.0" stroke="#222" stroke-width="5"/>
<line x1="1546.5" y1="768.0" x2="1540.5" y2="768.0" stroke="#222" stroke-width="5"/>
<line x1="922.0" y1="672.5" x2="928.0" y2="672.5" stroke="#222" stroke-width="5"/>
<line x1="1546.5" y1="672.5" x2="1540.5" y2="672.5" stroke="#222" stroke-width="5"/>
<line x1="922.0" y1="865.7" x2="1546.5" y2="755.0" stroke="#0a0a0a" stroke-width="4.2"/>
<line x1="810.0" y1="30.0" x2="879.6" y2="91.7" stroke="#0c0c0c" stroke-width="4.0"/>
<path d="M899.0 109.0 L870.3 96.2 L882.9 82.0 Z" fill="#0c0c0c"/>
<line x1="1150.0" y1="574.0" x2="1065.0" y2="753.0" stroke="#0c0c0c" stroke-width="4.0"/>
<path d="M1056.0 772.0 L1060.4 746.4 L1073.0 752.4 Z" fill="#0c0c0c"/>
<line x1="1190.0" y1="1012.0" x2="1144.1" y2="862.1" stroke="#0c0c0c" stroke-width="3.4"/>
<path d="M1138.0 842.0 L1152.0 863.9 L1138.6 868.0 Z" fill="#0c0c0c"/>
<line x1="1697.0" y1="1196.0" x2="1661.6" y2="1256.9" stroke="#0c0c0c" stroke-width="4.0"/>
<path d="M1651.0 1275.0 L1657.5 1249.9 L1669.6 1256.9 Z" fill="#0c0c0c"/>
</g>
<g filter="url(#f-small)">
<text x="928.5" y="1178.5" font-size="42.5" text-anchor="middle" fill="#5c5c5c">0.46</text>
<text x="1084.1" y="1178.5" font-size="42.5" text-anchor="middle" fill="#5c5c5c">0.465</text>
<text x="1237.8" y="1178.5" font-size="42.5" text-anchor="middle" fill="#5c5c5c">0.47</text>
<text x="1392.9" y="1178.5" font-size="42.5" text-anchor="middle" fill="#5c5c5c">0.475</text>
<text x="1545.5" y="1178.5" font-size="42.5" text-anchor="middle" fill="#5c5c5c">0.48</text>
<text x="912" y="1069.5" font-size="42.5" text-anchor="end" fill="#5c5c5c">0.053</text>
<text x="912" y="974.0" font-size="42.5" text-anchor="end" fill="#5c5c5c">0.054</text>
<text x="912" y="878.5" font-size="42.5" text-anchor="end" fill="#5c5c5c">0.055</text>
<text x="912" y="783.0" font-size="42.5" text-anchor="end" fill="#5c5c5c">0.056</text>
<text x="912" y="687.5" font-size="42.5" text-anchor="end" fill="#5c5c5c">0.057</text>
<text x="475" y="30.5" font-size="41.3" fill="#3c3c3c">Li saturation level</text>
<text transform="translate(1090.5 553.5) scale(1.085 1)" font-size="33.2" fill="#222" stroke="#222" stroke-width="0.75">Pulsed Current Charging</text>
<text transform="translate(1076.5 1043) scale(1.085 1)" font-size="33.2" fill="#222" stroke="#222" stroke-width="0.75">Constant Current Charging</text>
<text x="1734" y="1191" font-size="45" text-anchor="middle" fill="#333" stroke="#333" stroke-width="0.3">0.9</text>
</g>
<g filter="url(#f-dots)" stroke="#555" fill="none">
<line x1="279.5" y1="109" x2="1638.0" y2="109" stroke-width="5.8" stroke-dasharray="8.6 8.7" stroke-dashoffset="-2"/>
<line x1="1650.0" y1="109" x2="1790.0" y2="109" stroke-width="5.8" stroke-dasharray="8.6 8.7"/>
<line x1="1644" y1="128" x2="1644" y2="1278.0" stroke-width="5.6" stroke-dasharray="8.4 8.3"/>
</g>
</svg></body></html>
